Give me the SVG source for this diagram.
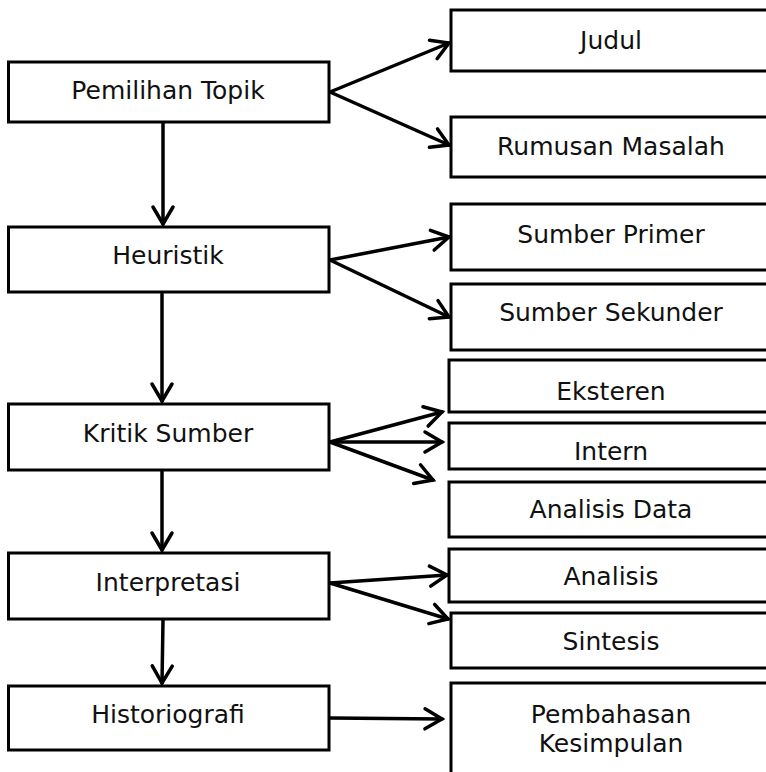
<svg xmlns="http://www.w3.org/2000/svg" width="766" height="772" viewBox="0 0 766 772">
<style>
.box{fill:#fff;stroke:#000;stroke-width:3}
.t{font-family:"DejaVu Sans",Verdana,sans-serif;font-size:25px;fill:#111;text-anchor:middle}
.c{fill:none;stroke:#000;stroke-width:3.5;stroke-linecap:round}
</style>
<defs>
<marker id="ah" markerUnits="userSpaceOnUse" markerWidth="30" markerHeight="30" viewBox="-20 -15 30 30" refX="0" refY="0" orient="auto" overflow="visible">
<path d="M-17,-10 L0,0 L-17,10" fill="none" stroke="#000" stroke-width="3.5" stroke-linecap="round" stroke-linejoin="miter"/>
</marker>
</defs>
<rect width="766" height="772" fill="#fff"/>
<g id="n-pemilihan"><rect class="box" x="8.5" y="62" width="320.5" height="60"/><text class="t" x="168" y="99">Pemilihan Topik</text></g>
<g id="n-heuristik"><rect class="box" x="8.5" y="227" width="320.5" height="65"/><text class="t" x="168" y="264">Heuristik</text></g>
<g id="n-kritik"><rect class="box" x="8.5" y="404" width="320.5" height="66"/><text class="t" x="168" y="442">Kritik Sumber</text></g>
<g id="n-interpretasi"><rect class="box" x="8.5" y="553" width="320.5" height="66"/><text class="t" x="168" y="591">Interpretasi</text></g>
<g id="n-historiografi"><rect class="box" x="8.5" y="686" width="320.5" height="64"/><text class="t" x="168" y="723">Historiografi</text></g>
<g id="n-judul"><rect class="box" x="451" y="10" width="330" height="61"/><text class="t" x="611" y="49">Judul</text></g>
<g id="n-rumusan"><rect class="box" x="451" y="117" width="330" height="60"/><text class="t" x="611" y="155">Rumusan Masalah</text></g>
<g id="n-primer"><rect class="box" x="451" y="204" width="330" height="66"/><text class="t" x="611" y="243">Sumber Primer</text></g>
<g id="n-sekunder"><rect class="box" x="451" y="284" width="330" height="66"/><text class="t" x="611" y="321">Sumber Sekunder</text></g>
<g id="n-eksteren"><rect class="box" x="449" y="360" width="330" height="52"/><text class="t" x="611" y="400">Eksteren</text></g>
<g id="n-intern"><rect class="box" x="449" y="423" width="330" height="46"/><text class="t" x="611" y="460">Intern</text></g>
<g id="n-analisisdata"><rect class="box" x="449" y="482" width="330" height="55"/><text class="t" x="611" y="518">Analisis Data</text></g>
<g id="n-analisis"><rect class="box" x="449" y="549" width="330" height="53"/><text class="t" x="611" y="585">Analisis</text></g>
<g id="n-sintesis"><rect class="box" x="451" y="613" width="330" height="55"/><text class="t" x="611" y="650">Sintesis</text></g>
<g id="n-pembahasan"><rect class="box" x="451" y="683" width="330" height="100"/><text class="t" x="611" y="723">Pembahasan</text><text class="t" x="611" y="752">Kesimpulan</text></g>
<g id="connectors">
<line class="c" x1="163" y1="123" x2="163" y2="224" marker-end="url(#ah)"/>
<line class="c" x1="162" y1="294" x2="162" y2="401" marker-end="url(#ah)"/>
<line class="c" x1="162" y1="471" x2="162" y2="550" marker-end="url(#ah)"/>
<line class="c" x1="163" y1="620" x2="162" y2="683" marker-end="url(#ah)"/>
<line class="c" x1="330" y1="92" x2="449" y2="43" marker-end="url(#ah)"/>
<line class="c" x1="330" y1="92" x2="449" y2="145" marker-end="url(#ah)"/>
<line class="c" x1="330" y1="260" x2="449" y2="237" marker-end="url(#ah)"/>
<line class="c" x1="330" y1="260" x2="449" y2="317" marker-end="url(#ah)"/>
<line class="c" x1="330" y1="442" x2="442" y2="412" marker-end="url(#ah)"/>
<line class="c" x1="330" y1="442" x2="442" y2="442" marker-end="url(#ah)"/>
<line class="c" x1="330" y1="442" x2="433" y2="480" marker-end="url(#ah)"/>
<line class="c" x1="330" y1="583" x2="447" y2="575" marker-end="url(#ah)"/>
<line class="c" x1="330" y1="583" x2="448" y2="619" marker-end="url(#ah)"/>
<line class="c" x1="330" y1="718" x2="442" y2="719" marker-end="url(#ah)"/>
</g>
</svg>
